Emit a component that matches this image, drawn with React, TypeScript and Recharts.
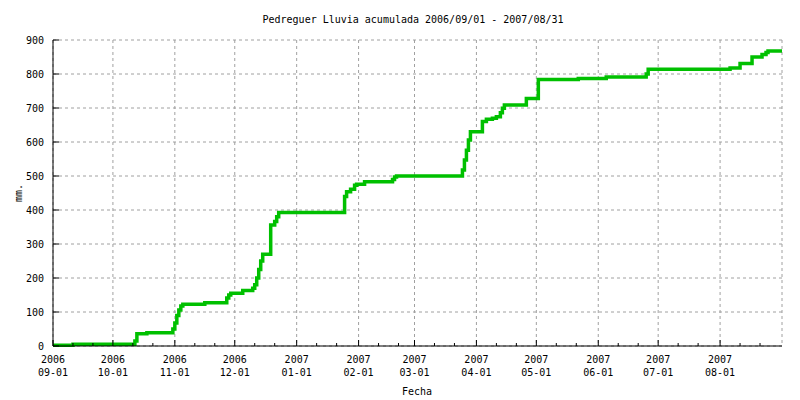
import { LineChart, Line, XAxis, YAxis, CartesianGrid } from "recharts"

// days since 2006-09-01 and accumulated rain (mm) from that day on
const days = [
  0, 10, 41, 42, 47, 60, 61, 62, 63, 64, 65, 76, 87, 88, 89, 95, 100, 101, 102, 103, 104, 105,
  109, 111, 112, 113, 146, 147, 149, 151, 152, 156, 170, 171, 172, 205, 206, 207, 208, 209, 215,
  217, 220, 222, 224, 225, 226, 237, 243, 263, 277, 297, 298, 339, 344, 350, 355, 357, 358, 365,
]
const rain = [
  2, 5, 15, 36, 39, 50, 68, 90, 106, 118, 123, 127, 141, 150, 155, 163, 170, 180, 200, 225, 250, 270,
  356, 366, 380, 393, 440, 454, 461, 473, 476, 483, 490, 497, 500, 518, 547, 576, 606, 630, 660,
  667, 670, 674, 686, 699, 709, 728, 784, 787, 791, 800, 814, 818, 831, 850, 857, 863, 868, 868,
]

const monthDays = [0, 30, 61, 91, 122, 153, 181, 212, 242, 273, 303, 334]
const yearLabels = ["2006", "2006", "2006", "2006", "2007", "2007", "2007", "2007", "2007", "2007", "2007", "2007"]
const dayLabels = ["09-01", "10-01", "11-01", "12-01", "01-01", "02-01", "03-01", "04-01", "05-01", "06-01", "07-01", "08-01"]
const yTicks = [0, 100, 200, 300, 400, 500, 600, 700, 800, 900]

// minor ticks on the 11th and 21st of each month
const minorDays = monthDays.flatMap((d) => [d + 10, d + 20])
const allTicks = [...monthDays, ...minorDays].sort((a, b) => a - b)

const data = days.map((d, i) => ({ d, v: rain[i] }))

const FONT = "'DejaVu Sans Mono', monospace"

function BottomTick(props: any) {
  const { x, y, payload } = props
  const i = monthDays.indexOf(payload.value)
  const major = i >= 0
  return (
    <g>
      <line x1={x} x2={x} y1={y} y2={y - (major ? 6 : 3)} stroke="#000" />
      {major && (
        <>
          <text x={x} y={y + 17} textAnchor="middle" fontFamily={FONT} fontSize={10} fill="#000">
            {yearLabels[i]}
          </text>
          <text x={x} y={y + 30} textAnchor="middle" fontFamily={FONT} fontSize={10} fill="#000">
            {dayLabels[i]}
          </text>
        </>
      )}
    </g>
  )
}

function TopTick(props: any) {
  const { x, y, payload } = props
  const major = monthDays.includes(payload.value)
  return <line x1={x} x2={x} y1={y} y2={y + (major ? 6 : 3)} stroke="#000" />
}

function LeftTick(props: any) {
  const { x, y, payload } = props
  return (
    <g>
      <line x1={x} x2={x + 6} y1={y} y2={y} stroke="#000" />
      <text x={x - 9} y={y + 4} textAnchor="end" fontFamily={FONT} fontSize={10} fill="#000">
        {payload.value}
      </text>
    </g>
  )
}

function RightTick(props: any) {
  const { x, y } = props
  return <line x1={x} x2={x - 6} y1={y} y2={y} stroke="#000" />
}

export default function App() {
  return (
    <div style={{ width: 800, height: 400, background: "#fff" }}>
      <style>{"body{margin:0}"}</style>
      <LineChart
        width={800}
        height={400}
        data={data}
        margin={{ top: 40, right: 18, bottom: 0, left: 0 }}
      >
        <CartesianGrid
          xAxisId="grid"
          stroke="#a0a0a0"
          strokeDasharray="3 3"
        />
        <XAxis
          dataKey="d"
          type="number"
          domain={[0, 365]}
          ticks={allTicks}
          interval={0}
          height={54}
          tickSize={0}
          tickMargin={0}
          tick={BottomTick}
          axisLine={{ stroke: "#000" }}
          tickLine={false}
        />
        <XAxis
          xAxisId="top"
          orientation="top"
          dataKey="d"
          type="number"
          domain={[0, 365]}
          ticks={allTicks}
          interval={0}
          height={0}
          tickSize={0}
          tickMargin={0}
          tick={TopTick}
          axisLine={{ stroke: "#000" }}
          tickLine={false}
        />
        <XAxis
          xAxisId="grid"
          dataKey="d"
          type="number"
          domain={[0, 365]}
          ticks={monthDays}
          interval={0}
          hide
        />
        <YAxis
          type="number"
          domain={[0, 900]}
          ticks={yTicks}
          interval={0}
          width={53}
          tickSize={0}
          tickMargin={0}
          tick={LeftTick}
          axisLine={{ stroke: "#000" }}
          tickLine={false}
        />
        <YAxis
          yAxisId="right"
          orientation="right"
          type="number"
          domain={[0, 900]}
          ticks={yTicks}
          interval={0}
          width={0}
          tickSize={0}
          tickMargin={0}
          tick={RightTick}
          axisLine={{ stroke: "#000" }}
          tickLine={false}
        />
        <Line
          type="stepAfter"
          dataKey="v"
          stroke="#00c000"
          strokeWidth={3.5}
          dot={false}
          isAnimationActive={false}
        />
        <text x={413} y={23} textAnchor="middle" fontFamily={FONT} fontSize={10} fill="#000">
          Pedreguer Lluvia acumulada 2006/09/01 - 2007/08/31
        </text>
        <text
          x={22}
          y={193}
          textAnchor="middle"
          transform="rotate(-90 22 193)"
          fontFamily={FONT}
          fontSize={10}
          fill="#000"
        >
          mm.
        </text>
        <text x={417} y={395} textAnchor="middle" fontFamily={FONT} fontSize={10} fill="#000">
          Fecha
        </text>
      </LineChart>
    </div>
  )
}
